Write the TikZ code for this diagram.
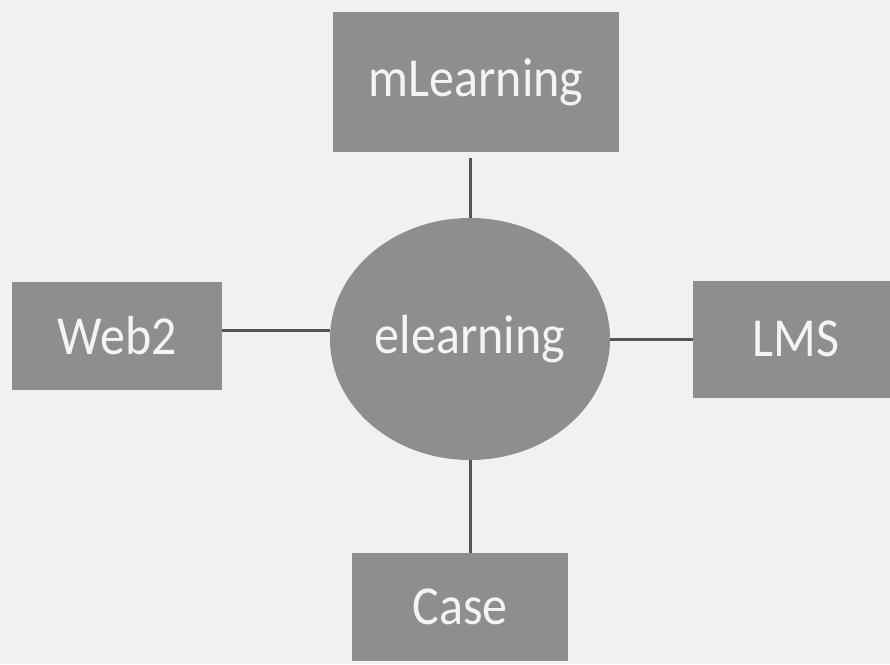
\documentclass[tikz,border=0pt]{standalone}
\usepackage{fontspec}
\setmainfont{Carlito}
\usetikzlibrary{shapes.geometric}

\definecolor{paper}{HTML}{F1F1EF}
\definecolor{boxgray}{HTML}{8E8E8E}
\definecolor{linkgray}{HTML}{555555}
\definecolor{textwhite}{HTML}{F4F4F4}

\begin{document}
\begin{tikzpicture}[x=1pt, y=-1pt,
    every node/.style={font=\fontsize{50}{56}\selectfont, text=textwhite},
    topic/.style={rectangle, fill=boxgray, inner sep=0pt},
    link/.style={draw=linkgray, line width=3pt}]
    % Page
    \fill[paper] (0,0) rectangle (890,664);
    \useasboundingbox (0,0) rectangle (890,664);
    \clip (0,0) rectangle (890,664);

    % Nodes
    \node[ellipse, fill=boxgray, minimum width=280pt, minimum height=242pt, inner sep=0pt] (elearning) at (470,339) {\scalebox{1}[1.1]{elearning}};
    \node[topic, minimum width=286pt, minimum height=140pt] (mlearning) at (476,82) {\scalebox{1}[1.1]{mLearning}};
    \node[topic, minimum width=210pt, minimum height=108pt] (web) at (117,336) {\scalebox{1}[1.1]{Web2}};
    \node[topic, minimum width=206pt, minimum height=117pt] (lms) at (796,339) {\scalebox{1}[1.1]{LMS}};
    \node[topic, minimum width=216pt, minimum height=108pt] (case) at (460,607) {\scalebox{1}[1.1]{Case}};

    % Links
    \draw[link] (elearning.north) -- ([yshift=-6pt]elearning.north |- mlearning.south);
    \draw[link] ([yshift=6pt]web.east) -- ([yshift=6pt]elearning.west |- web.east);
    \draw[link] (elearning.east) -- (lms.west);
    \draw[link] (elearning.south) -- (elearning.south |- case.north);
\end{tikzpicture}
\end{document}
